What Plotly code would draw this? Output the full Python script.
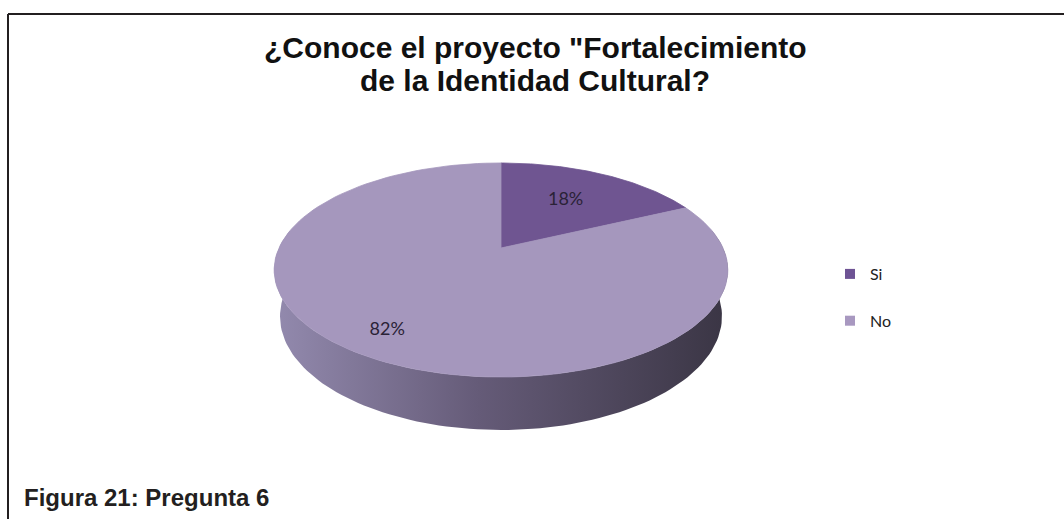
import math
import plotly.graph_objects as go

# Survey answers (percent of respondents)
categories = ["Si", "No"]
values = [18, 82]
slice_colors = ["#6F5591", "#A597BD"]
legend_colors = ["#6E5394", "#A898C0"]

title_lines = ["¿Conoce el proyecto \"Fortalecimiento", "de la Identidad Cultural?"]
caption_text = "Figura 21: Pregunta 6"

W, H = 1064, 519

# Perspective view of a tilted disc (pixel space, y grows downward)
CX, CY = 501.0, 248.0      # projected centre of the disc top
K = 222.0                  # radius scale in pixels
ELEV = math.radians(27.5)  # camera elevation
S, C = math.sin(ELEV), math.cos(ELEV)
D = 4.865 * C              # camera distance (perspective strength)
THICK = 0.237              # disc thickness, in radius units


def project(theta, r=1.0, drop=0.0):
    X = r * math.sin(theta)
    Z = r * math.cos(theta)
    vert = Z * S - drop * C
    depth = D + Z * C + drop * S
    f = D / depth
    return CX + K * X * f, CY - K * vert * f


def arc(t0, t1, r=1.0, drop=0.0, n=120):
    pts = [project(t0 + (t1 - t0) * i / n, r, drop) for i in range(n + 1)]
    return [p[0] for p in pts], [p[1] for p in pts]


total = float(sum(values))
bounds = [0.0]
for v in values:
    bounds.append(bounds[-1] + 2 * math.pi * v / total)

fig = go.Figure()

# Visible rim of the disc (front half), shaded left to right
t_a, t_b = math.radians(80), math.radians(280)
tx, ty = arc(t_a, t_b)
bx, by = arc(t_b, t_a, drop=THICK)
fig.add_trace(go.Scatter(
    x=tx + bx, y=ty + by, mode="lines", fill="toself",
    line=dict(width=0, color="rgba(0,0,0,0)"),
    fillgradient=dict(type="horizontal",
                      colorscale=[[0, "#938AAE"], [0.45, "#655B78"], [1, "#3A3544"]]),
    hoverinfo="skip", showlegend=False))

# Top face slices
for i, cat in enumerate(categories):
    ax, ay = arc(bounds[i], bounds[i + 1])
    xs = [CX] + ax + [CX]
    ys = [CY] + ay + [CY]
    fig.add_trace(go.Scatter(
        x=xs, y=ys, mode="lines", fill="toself", fillcolor=slice_colors[i],
        line=dict(width=0.8, color=slice_colors[i]),
        name=cat, hoverinfo="skip", showlegend=False))

# Percentage labels placed along each slice's mid-angle
label_r = [0.6, 0.82]
lx, ly, lt = [], [], []
for i, v in enumerate(values):
    mid = (bounds[i] + bounds[i + 1]) / 2
    px, py = project(mid, label_r[i])
    lx.append(px)
    ly.append(py)
    lt.append(f"{v}%")
fig.add_trace(go.Scatter(
    x=lx, y=ly, mode="text", text=lt,
    textfont=dict(family="Lato, Open Sans, sans-serif", size=18, color="#2A2236"),
    hoverinfo="skip", showlegend=False))

# Legend entries
for i, cat in enumerate(categories):
    fig.add_trace(go.Scatter(
        x=[None], y=[None], mode="markers", name=cat, legendgroup=cat,
        marker=dict(symbol="square", size=10, color=legend_colors[i])))

# Two-line title, each line placed on its own
for y, line in zip([47, 80], title_lines):
    fig.add_annotation(
        x=535, y=y, xref="x", yref="y", text=f"<b>{line}</b>",
        showarrow=False, xanchor="center", yanchor="middle",
        font=dict(family="Liberation Sans, Arial, sans-serif", size=30, color="#111111"))

fig.add_annotation(
    x=22, y=497, xref="x", yref="y", text=f"<b>{caption_text}</b>",
    showarrow=False, xanchor="left", yanchor="middle",
    font=dict(family="Liberation Sans, Arial, sans-serif", size=24, color="#231F20"))

# Frame lines (top and left)
fig.add_shape(type="line", x0=8, x1=W, y0=14, y1=14, xref="x", yref="y",
              line=dict(color="#231F20", width=2))
fig.add_shape(type="line", x0=8, x1=8, y0=14, y1=H, xref="x", yref="y",
              line=dict(color="#231F20", width=2))

fig.update_layout(
    width=W, height=H,
    margin=dict(l=0, r=0, t=0, b=0),
    paper_bgcolor="white", plot_bgcolor="white",
    xaxis=dict(range=[0, W], visible=False, fixedrange=True),
    yaxis=dict(range=[H, 0], visible=False, fixedrange=True),
    showlegend=True,
    legend=dict(x=830 / W, y=1 - 257 / H, xanchor="left", yanchor="top",
                font=dict(family="Lato, Open Sans, sans-serif", size=16, color="#222222"),
                tracegroupgap=23, itemwidth=30, bgcolor="rgba(0,0,0,0)"),
)

fig.write_html("out.html")
